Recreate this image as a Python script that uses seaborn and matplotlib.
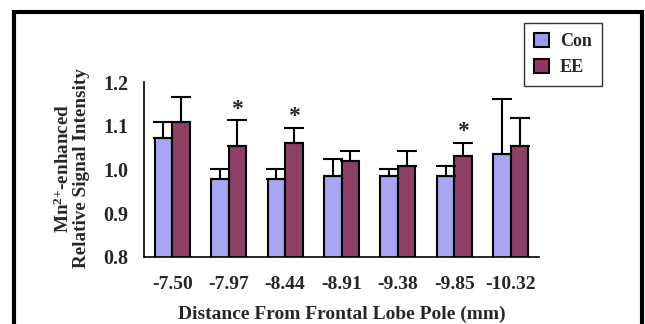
"""Mn2+-enhanced signal intensity by distance from frontal lobe pole."""

import matplotlib
matplotlib.use("Agg")
import matplotlib.pyplot as plt
from matplotlib.patches import Rectangle, Patch
import seaborn as sns
import pandas as pd
import numpy as np

distances = ["-7.50", "-7.97", "-8.44", "-8.91", "-9.38", "-9.85", "-10.32"]
con_mean = [1.071, 0.978, 0.978, 0.984, 0.984, 0.984, 1.036]
con_err = [0.037, 0.024, 0.024, 0.041, 0.018, 0.024, 0.124]
ee_mean = [1.108, 1.054, 1.061, 1.020, 1.008, 1.031, 1.054]
ee_err = [0.058, 0.058, 0.034, 0.023, 0.035, 0.029, 0.064]
significant = [False, True, True, False, False, True, False]
groups = ["Con", "EE"]
colors = {"Con": "#9999FF", "EE": "#993366"}

sns.set_style("white")
plt.rcParams["font.family"] = ["Liberation Serif", "DejaVu Serif"]
plt.rcParams["font.weight"] = "bold"
plt.rcParams["mathtext.fontset"] = "custom"
plt.rcParams["mathtext.rm"] = "Liberation Serif:bold"
plt.rcParams["mathtext.default"] = "rm"

df = pd.DataFrame({
    "distance": distances * 2,
    "group": ["Con"] * len(distances) + ["EE"] * len(distances),
    "value": con_mean + ee_mean,
})

fig = plt.figure(figsize=(6.45, 3.24), dpi=100)
ax = fig.add_axes([144 / 645, 67 / 324, 395 / 645, 175 / 324])

sns.barplot(data=df, x="distance", y="value", hue="group", order=distances,
            hue_order=groups, palette=colors, width=0.62, errorbar=None,
            edgecolor="black", linewidth=1.5, ax=ax, legend=False)

# upward-only error bars + significance stars
for container, means, errs in zip(ax.containers, [con_mean, ee_mean], [con_err, ee_err]):
    xs = [p.get_x() + p.get_width() / 2 for p in container.patches]
    ax.errorbar(xs, means, yerr=[np.zeros(len(errs)), errs], fmt="none",
                ecolor="black", elinewidth=1.5, capsize=7, capthick=1.5, zorder=1)

ee_x = [p.get_x() + p.get_width() / 2 for p in ax.containers[1].patches]
for x, m, e, s in zip(ee_x, ee_mean, ee_err, significant):
    if s:
        ax.text(x, m + e + 0.002, "*", ha="center", va="bottom", fontsize=17,
                fontweight="bold")

ax.set_ylim(0.8, 1.2)
ax.set_xlim(-0.5, len(distances) - 0.5)
ax.set_yticks([0.8, 0.9, 1.0, 1.1, 1.2])
ax.set_yticklabels(["0.8", "0.9", "1.0", "1.1", "1.2"])
ax.set_xticks(np.arange(-0.5, len(distances)), minor=True)
ax.tick_params(axis="y", direction="in", length=6, width=1, labelsize=14.5, pad=11)
ax.tick_params(axis="x", which="major", length=0, labelsize=14, pad=14)
ax.tick_params(axis="x", which="minor", direction="in", length=5, width=1)
for lab in ax.get_xticklabels() + ax.get_yticklabels():
    lab.set_fontweight("bold")

sns.despine(ax=ax)
for side in ["left", "bottom"]:
    ax.spines[side].set_color("black")
    ax.spines[side].set_linewidth(1.2)

ax.set_xlabel("Distance From Frontal Lobe Pole (mm)", fontsize=14,
              fontweight="bold", labelpad=9)
ax.set_ylabel("")
fig.text(72 / 645, 1 - 168 / 324, "Mn$^{2{+}}$-enhanced\nRelative Signal Intensity",
         rotation=90, ha="center", va="center", multialignment="center",
         fontsize=13.8, fontweight="bold", linespacing=1.0)

handles = [Patch(facecolor=colors[g], edgecolor="black", linewidth=1.5, label=g)
           for g in groups]
leg = fig.legend(handles=handles, loc="upper left",
                 bbox_to_anchor=(524 / 645, 1 - 23 / 324), fontsize=13,
                 frameon=True, fancybox=False, handlelength=0.85,
                 handleheight=0.85, handletextpad=0.6, labelspacing=0.45,
                 borderpad=0.55, borderaxespad=0)
leg.get_frame().set_edgecolor("black")
leg.get_frame().set_linewidth(1)
for t in leg.get_texts():
    t.set_fontweight("bold")

# outer frame, cut off at the bottom
fig.patches.append(Rectangle((14 / 645, -0.2), 628 / 645, 1.2 - 12 / 324,
                             transform=fig.transFigure, fill=False,
                             edgecolor="black", linewidth=3))

fig.savefig("out.png", dpi=100)
